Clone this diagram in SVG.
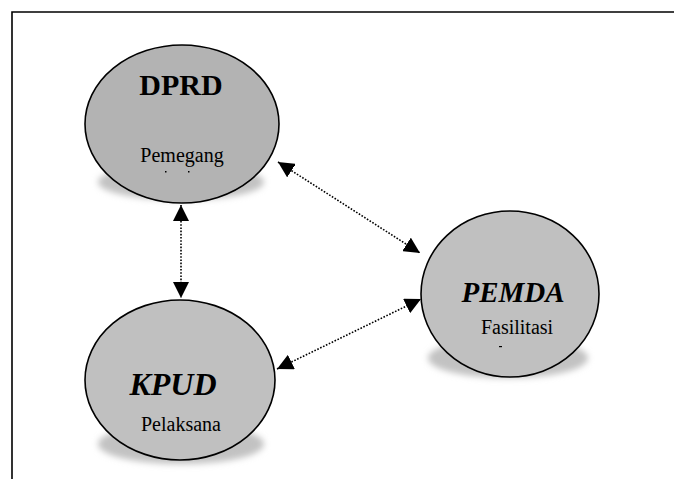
<svg xmlns="http://www.w3.org/2000/svg" width="674" height="479" viewBox="0 0 674 479">
<style>
.node{stroke:#000;stroke-width:1.6}
.shadow{fill:#c2c2c2;filter:url(#blur)}
.title{font-family:"Liberation Serif",serif;font-weight:bold;text-anchor:middle;fill:#000}
.sub{font-family:"Liberation Serif",serif;font-size:20px;text-anchor:middle;fill:#000}
.conn{stroke:#000;stroke-width:1.6;stroke-dasharray:1.6 1.6;fill:none;marker-start:url(#ah);marker-end:url(#ah)}
</style>
<defs>
<filter id="blur" x="-20%" y="-50%" width="140%" height="200%"><feGaussianBlur stdDeviation="3"/></filter>
<marker id="ah" markerUnits="userSpaceOnUse" markerWidth="16" markerHeight="16" refX="15" refY="7.5" orient="auto-start-reverse" viewBox="0 0 15 15">
<path d="M0,0 L15,7.5 L0,15 Z" fill="#000"/>
</marker>
</defs>
<rect width="674" height="479" fill="#fff"/>
<path d="M12,479 V12 H674" fill="none" stroke="#000" stroke-width="1.6"/>
<g id="dprd">
<ellipse class="shadow" cx="181" cy="182" rx="83" ry="18"/>
<ellipse class="node" cx="182" cy="124" rx="97" ry="79" fill="#b3b3b3"/>
<text class="title" x="181" y="95" font-size="30">DPRD</text>
<text class="sub" x="182" y="162">Pemegang</text>
<rect x="165" y="171" width="1.5" height="1.5" fill="#000"/>
<rect x="188" y="171" width="1.5" height="1.5" fill="#000"/>
</g>
<g id="pemda">
<ellipse class="shadow" cx="508" cy="358" rx="80" ry="20"/>
<ellipse class="node" cx="510" cy="294" rx="89" ry="83" fill="#c0c0c0"/>
<text class="title" x="513" y="302" font-size="29" font-style="italic">PEMDA</text>
<text class="sub" x="517" y="334">Fasilitasi</text>
<rect x="499" y="346" width="3" height="1.2" fill="#000"/>
</g>
<g id="kpud">
<ellipse class="shadow" cx="181" cy="444" rx="83" ry="20"/>
<ellipse class="node" cx="180" cy="380" rx="95" ry="80" fill="#c0c0c0"/>
<text class="title" x="173" y="395" font-size="32" font-style="italic">KPUD</text>
<text class="sub" x="181" y="431">Pelaksana</text>
</g>
<g id="connectors">
<line class="conn" x1="181" y1="205" x2="181" y2="298"/>
<line class="conn" x1="278" y1="162" x2="420" y2="253"/>
<line class="conn" x1="277" y1="369" x2="421" y2="299"/>
</g>
</svg>
